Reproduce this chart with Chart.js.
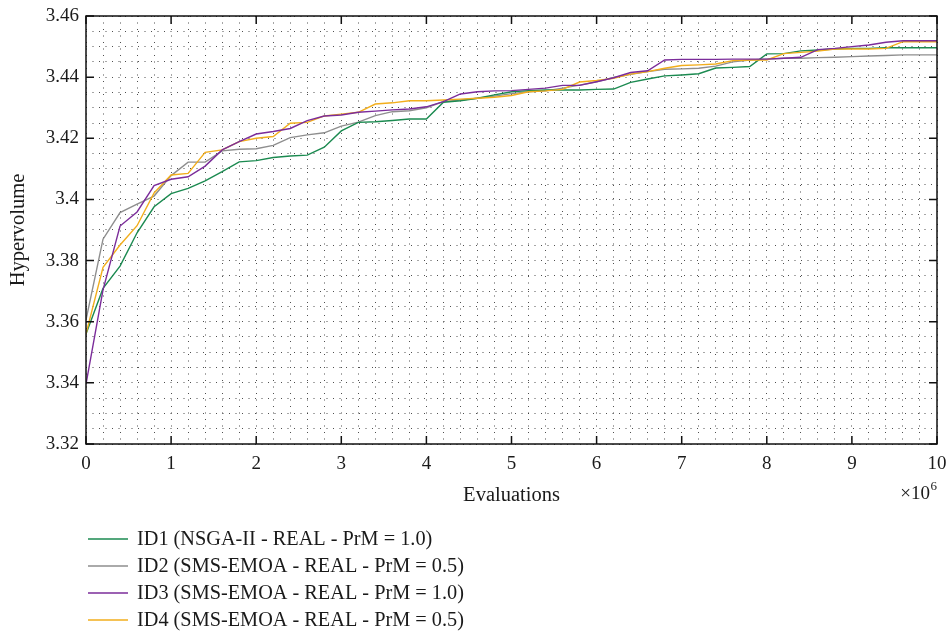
<!DOCTYPE html>
<html>
<head>
<meta charset="utf-8">
<script src="https://cdn.jsdelivr.net/npm/chart.js@4/dist/chart.umd.min.js"></script>
<style>
  html, body { margin: 0; padding: 0; background: #ffffff; }
  #wrap { width: 948px; height: 635px; }
</style>
</head>
<body>
<div id="wrap"><canvas id="c" width="948" height="635"></canvas></div>
<script>
// Evaluations (in units of 10^6)
const evaluations = [0, 0.2, 0.4, 0.6, 0.8, 1.0, 1.2, 1.4, 1.6, 1.8, 2.0, 2.2, 2.4, 2.6, 2.8, 3.0, 3.2, 3.4, 3.6, 3.8, 4.0,
  4.2, 4.4, 4.6, 4.8, 5.0, 5.2, 5.4, 5.6, 5.8, 6.0, 6.2, 6.4, 6.6, 6.8, 7.0, 7.2, 7.4, 7.6, 7.8, 8.0,
  8.2, 8.4, 8.6, 8.8, 9.0, 9.2, 9.4, 9.6, 9.8, 10.0];

// Hypervolume per configuration
const hvID1 = [3.3560, 3.3709, 3.3782, 3.3891, 3.3976, 3.4019, 3.4036, 3.4061, 3.4091, 3.4123, 3.4127, 3.4137, 3.4142, 3.4145, 3.4171, 3.4224, 3.4252, 3.4254, 3.4258, 3.4263, 3.4263,
  3.4318, 3.4323, 3.4331, 3.4342, 3.4352, 3.4356, 3.4358, 3.4358, 3.4358, 3.4360, 3.4361, 3.4383, 3.4394, 3.4404, 3.4407, 3.4411, 3.4430, 3.4432, 3.4435, 3.4476,
  3.4477, 3.4486, 3.4489, 3.4492, 3.4494, 3.4494, 3.4496, 3.4496, 3.4496, 3.4496];
const hvID2 = [3.3606, 3.3870, 3.3957, 3.3985, 3.4011, 3.4078, 3.4122, 3.4122, 3.4159, 3.4164, 3.4166, 3.4177, 3.4202, 3.4211, 3.4218, 3.4240, 3.4253, 3.4274, 3.4287, 3.4290, 3.4300,
  3.4320, 3.4325, 3.4331, 3.4338, 3.4346, 3.4352, 3.4355, 3.4364, 3.4374, 3.4385, 3.4399, 3.4409, 3.4418, 3.4426, 3.4427, 3.4429, 3.4436, 3.4450, 3.4456, 3.4459,
  3.4462, 3.4462, 3.4464, 3.4465, 3.4467, 3.4469, 3.4471, 3.4473, 3.4473, 3.4473];
const hvID3 = [3.3396, 3.3704, 3.3913, 3.3959, 3.4045, 3.4066, 3.4074, 3.4109, 3.4162, 3.4189, 3.4214, 3.4222, 3.4232, 3.4258, 3.4273, 3.4276, 3.4285, 3.4289, 3.4293, 3.4296, 3.4303,
  3.4320, 3.4345, 3.4352, 3.4355, 3.4356, 3.4360, 3.4364, 3.4373, 3.4373, 3.4385, 3.4398, 3.4415, 3.4421, 3.4456, 3.4458, 3.4458, 3.4458, 3.4459, 3.4459, 3.4459,
  3.4462, 3.4465, 3.4490, 3.4494, 3.4500, 3.4505, 3.4514, 3.4519, 3.4519, 3.4519];
const hvID4 = [3.3560, 3.3778, 3.3851, 3.3914, 3.4021, 3.4080, 3.4085, 3.4154, 3.4162, 3.4189, 3.4200, 3.4206, 3.4249, 3.4252, 3.4273, 3.4279, 3.4285, 3.4312, 3.4316, 3.4323, 3.4323,
  3.4325, 3.4328, 3.4331, 3.4334, 3.4340, 3.4352, 3.4355, 3.4360, 3.4384, 3.4389, 3.4396, 3.4410, 3.4418, 3.4429, 3.4438, 3.4440, 3.4443, 3.4454, 3.4456, 3.4456,
  3.4477, 3.4481, 3.4485, 3.4492, 3.4492, 3.4492, 3.4494, 3.4516, 3.4516, 3.4516];

const seriesLabels = [
  'ID1 (NSGA-II - REAL - PrM = 1.0)',
  'ID2 (SMS-EMOA - REAL - PrM = 0.5)',
  'ID3 (SMS-EMOA - REAL - PrM = 1.0)',
  'ID4 (SMS-EMOA - REAL - PrM = 0.5)'
];
const seriesColors = ['#1b8a50', '#8e8e8e', '#7b2c9a', '#f2ae1c'];

// Axis ticks
const xTickValues = [0, 1, 2, 3, 4, 5, 6, 7, 8, 9, 10];
const xTickLabels = ['0', '1', '2', '3', '4', '5', '6', '7', '8', '9', '10'];
const yTickValues = [3.32, 3.34, 3.36, 3.38, 3.40, 3.42, 3.44, 3.46];
const yTickLabels = ['3.32', '3.34', '3.36', '3.38', '3.4', '3.42', '3.44', '3.46'];
const xMinorStep = 0.2;
const yMinorStep = 0.005;

const FONT = '"Liberation Serif", "Times New Roman", serif';
const TEXT = '#1a1a1a';
const GRID = 'rgba(35,35,35,0.8)';

// Dotted minor grid positions
const xGrid = [];
for (let i = 0; i <= Math.round(10 / xMinorStep); i++) xGrid.push(+(i * xMinorStep).toFixed(4));
const yGrid = [];
for (let i = 0; i <= Math.round((3.46 - 3.32) / yMinorStep); i++) yGrid.push(+(3.32 + i * yMinorStep).toFixed(4));

function labelFor(values, labels, v) {
  const i = values.findIndex(t => Math.abs(t - v) < 1e-7);
  return i >= 0 ? labels[i] : '';
}

const datasets = [hvID1, hvID2, hvID3, hvID4].map((vals, k) => ({
  label: seriesLabels[k],
  data: evaluations.map((x, i) => ({ x: x, y: vals[i] })),
  borderColor: seriesColors[k],
  backgroundColor: seriesColors[k],
  borderWidth: 1.4,
  pointRadius: 0,
  tension: 0,
  fill: false,
  order: [2, 3, 0, 1][k]
}));

// Frame, inward tick marks, multiplier, legend
const decorations = {
  id: 'decorations',
  afterDatasetsDraw(chart) {
    const { ctx, chartArea: a, scales: { x, y } } = chart;
    ctx.save();
    ctx.strokeStyle = '#111';
    ctx.lineWidth = 1.5;
    ctx.strokeRect(a.left, a.top, a.right - a.left, a.bottom - a.top);
    const tl = 8;
    ctx.beginPath();
    xTickValues.forEach(v => {
      const px = x.getPixelForValue(v);
      ctx.moveTo(px, a.bottom); ctx.lineTo(px, a.bottom - tl);
      ctx.moveTo(px, a.top); ctx.lineTo(px, a.top + tl);
    });
    yTickValues.forEach(v => {
      const py = y.getPixelForValue(v);
      ctx.moveTo(a.left, py); ctx.lineTo(a.left + tl, py);
      ctx.moveTo(a.right, py); ctx.lineTo(a.right - tl, py);
    });
    ctx.stroke();
    ctx.restore();
  },
  afterDraw(chart) {
    const { ctx, chartArea: a } = chart;
    ctx.save();
    ctx.fillStyle = TEXT;
    // ×10^6 multiplier
    ctx.textBaseline = 'alphabetic';
    ctx.textAlign = 'right';
    ctx.font = '13px ' + FONT;
    const sup = '6';
    const supW = ctx.measureText(sup).width;
    ctx.fillText(sup, a.right, 490);
    ctx.font = '19px ' + FONT;
    ctx.fillText('\u00d710', a.right - supW - 0.5, 499);

    // legend, one entry per row
    const rowY = [539, 566, 593, 620];
    ctx.textAlign = 'left';
    ctx.textBaseline = 'middle';
    chart.data.datasets.forEach((ds, i) => {
      const yy = rowY[i];
      ctx.strokeStyle = ds.borderColor;
      ctx.lineWidth = 1.4;
      ctx.beginPath();
      ctx.moveTo(88, yy); ctx.lineTo(128, yy);
      ctx.stroke();
      ctx.fillStyle = TEXT;
      ctx.font = '20.3px ' + FONT;
      ctx.fillText(ds.label, 137, yy + 1);
    });
    ctx.restore();
  }
};

new Chart(document.getElementById('c'), {
  type: 'line',
  data: { datasets },
  options: {
    responsive: false,
    animation: false,
    devicePixelRatio: 1,
    layout: { padding: { left: 0, right: 11, top: 16, bottom: 0 } },
    plugins: { legend: { display: false }, tooltip: { enabled: false } },
    scales: {
      x: {
        type: 'linear',
        min: 0, max: 10,
        afterBuildTicks: s => { s.ticks = xGrid.map(v => ({ value: v })); },
        afterFit: s => { s.height = 191; s.paddingLeft = 0; s.paddingRight = 0; },
        ticks: {
          autoSkip: false, maxRotation: 0, padding: 9,
          color: TEXT, font: { family: FONT, size: 19 },
          callback: v => labelFor(xTickValues, xTickLabels, v)
        },
        grid: { color: GRID, lineWidth: 1, drawTicks: false },
        border: { display: false, dash: [1, 5.5] },
        title: {
          display: true, text: 'Evaluations', color: TEXT,
          font: { family: FONT, size: 20.5 }, padding: { top: 0, bottom: 127 }
        }
      },
      y: {
        type: 'linear',
        min: 3.32, max: 3.46,
        afterBuildTicks: s => { s.ticks = yGrid.map(v => ({ value: v })); },
        afterFit: s => { s.width = 86; s.paddingTop = 0; s.paddingBottom = 0; },
        ticks: {
          autoSkip: false, padding: 7,
          color: TEXT, font: { family: FONT, size: 19 },
          callback: v => labelFor(yTickValues, yTickLabels, v)
        },
        grid: { color: GRID, lineWidth: 1, drawTicks: false },
        border: { display: false, dash: [1, 5.5] },
        title: {
          display: true, text: 'Hypervolume', color: TEXT,
          font: { family: FONT, size: 20.5 }, padding: { top: 6, bottom: 0 }
        }
      }
    }
  },
  plugins: [decorations]
});
</script>
</body>
</html>
